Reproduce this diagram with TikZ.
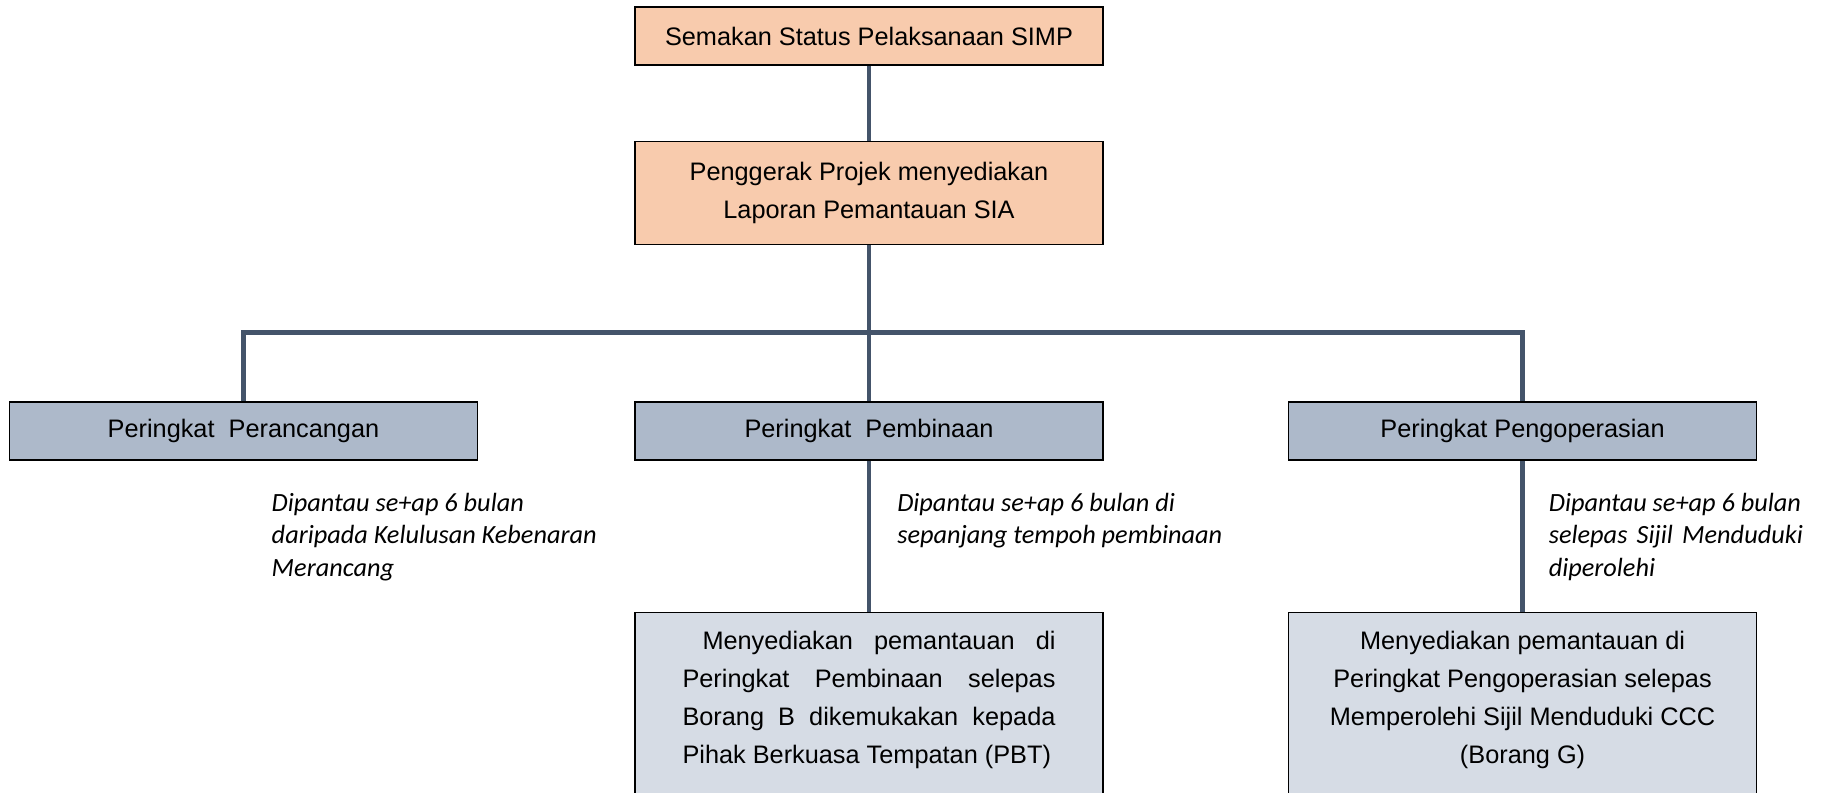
\documentclass[tikz,border=0pt]{standalone}
\usepackage{fontspec}
\setmainfont{Liberation Sans}
\newfontfamily\notefont{Carlito}
\usetikzlibrary{positioning}
\definecolor{peach}{HTML}{F8CBAD}
\definecolor{slate}{HTML}{ADB9CA}
\definecolor{mist}{HTML}{D6DCE5}
\definecolor{linkblue}{HTML}{44546A}

\begin{document}
\begin{tikzpicture}[
            node distance=3.9cm,
            box/.style={draw, line width=1.1pt, minimum width=11.7cm, minimum height=1.45cm, align=center, inner sep=0pt, font=\fontsize{18}{27}\selectfont},
            topbox/.style={box, fill=peach},
            stagebox/.style={box, fill=slate},
            taskbox/.style={box, fill=mist, minimum height=4.75cm},
            note/.style={anchor=north west, inner sep=0pt, align=left, font=\notefont\itshape\fontsize{18.7}{23}\selectfont},
            link/.style={draw=linkblue, line width=3.5pt}
        ]
        \useasboundingbox (0,0) rectangle (45.575,-19.8);
        \node[topbox] (semak) at (21.725,-0.9) {Semakan Status Pelaksanaan SIMP};
        \node[topbox, minimum height=2.575cm, below=1.875cm of semak] (laporan) {Penggerak Projek menyediakan\\Laporan Pemantauan SIA};
        \node[stagebox, below=3.9cm of laporan] (bina) {Peringkat~~Pembinaan};
        \node[stagebox, left=of bina] (rancang) {Peringkat~~Perancangan};
        \node[stagebox, right=4.6cm of bina] (operasi) {Peringkat Pengoperasian};
        \node[taskbox, below=3.775cm of bina] (binatugas) {\hspace*{0.5cm}\makebox[8.825cm][s]{Menyediakan pemantauan di}\\
            \makebox[9.325cm][s]{Peringkat Pembinaan selepas}\\
            \makebox[9.325cm][s]{Borang B dikemukakan kepada}\\
            \makebox[9.325cm][l]{Pihak Berkuasa Tempatan (PBT)}\rule[-0.5cm]{0pt}{0.5cm}};
        \node[taskbox, below=3.775cm of operasi] (operasitugas) {Menyediakan pemantauan di\\Peringkat Pengoperasian selepas\\Memperolehi Sijil Menduduki CCC\\(Borang G)\rule[-0.5cm]{0pt}{0.5cm}};
        \coordinate[below=2.175cm of laporan] (simpang);

        \draw[link] (semak) -- (laporan);
        \draw[link] (laporan) -- (bina);
        \draw[link] (rancang) |- (simpang) -| (operasi);
        \draw[link] (bina) -- (binatugas);
        \draw[link] (operasi) -- (operasitugas);

        % catatan pemantauan
        \node[note] (notarancang) at ([xshift=0.7cm, yshift=-0.8cm]rancang.south) {Dipantau se+ap 6 bulan\\daripada Kelulusan Kebenaran\\Merancang};
        \node[note] (notabina) at ([xshift=0.7cm, yshift=-0.8cm]bina.south) {Dipantau se+ap 6 bulan di\\sepanjang tempoh pembinaan};
        \node[note] (notaoperasi) at ([xshift=0.65cm, yshift=-0.8cm]operasi.south) {Dipantau se+ap 6 bulan\\\makebox[6.35cm][s]{selepas Sijil Menduduki}\\diperolehi};
    \end{tikzpicture}
\end{document}
